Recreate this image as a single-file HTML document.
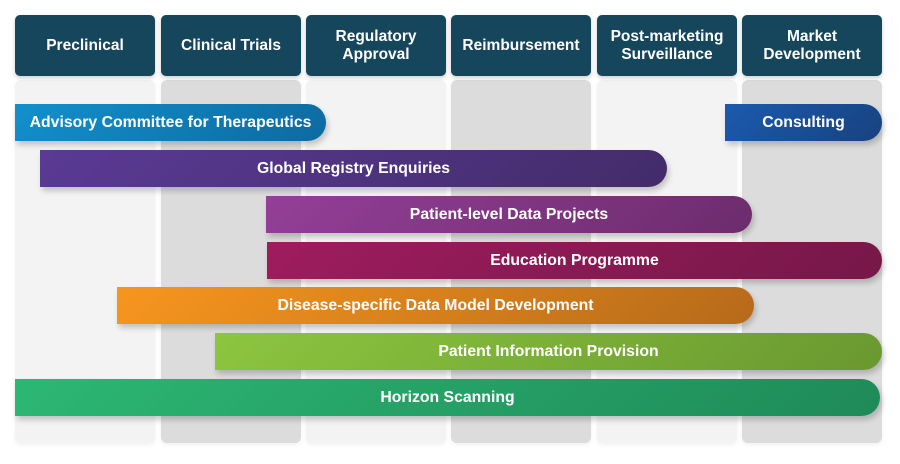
<!DOCTYPE html>
<html><head><meta charset="utf-8"><style>
*{margin:0;padding:0;box-sizing:border-box}
body{width:900px;height:464px;background:#fff;position:relative;overflow:hidden;font-family:"Liberation Sans",sans-serif;font-weight:bold;color:#fff}
.col{position:absolute;top:80px;height:363px;width:140px;border-radius:6px;box-shadow:0 2px 4px rgba(0,0,0,.06)}
.l{background:#f3f3f3}.d{background:#dcdcdc}
.h{position:absolute;top:15px;height:61px;width:140px;background:#15465b;border-radius:5px;display:flex;align-items:center;justify-content:center;text-align:center;font-size:15.5px;line-height:18px;box-shadow:0 2px 4px rgba(0,0,0,.2)}
.b{position:absolute;height:37px;border-radius:0 19px 19px 0;display:flex;align-items:center;justify-content:center;font-size:15.8px;padding-top:1px;box-shadow:2px 4px 6px rgba(0,0,0,.2);white-space:nowrap}
</style></head><body>
<div class="col l" style="left:15px"></div>
<div class="col d" style="left:161px"></div>
<div class="col l" style="left:306px"></div>
<div class="col d" style="left:451px"></div>
<div class="col l" style="left:597px"></div>
<div class="col d" style="left:742px"></div>
<div class="h" style="left:15px">Preclinical</div>
<div class="h" style="left:161px">Clinical Trials</div>
<div class="h" style="left:306px">Regulatory<br>Approval</div>
<div class="h" style="left:451px">Reimbursement</div>
<div class="h" style="left:597px">Post-marketing<br>Surveillance</div>
<div class="h" style="left:742px">Market<br>Development</div>
<div class="b" style="left:15px;width:311px;top:104px;background:linear-gradient(135deg,#1290cc,#0d6aa0)">Advisory Committee for Therapeutics</div>
<div class="b" style="left:725px;width:157px;top:104px;background:linear-gradient(135deg,#1c5aae,#17427f)">Consulting</div>
<div class="b" style="left:40px;width:627px;top:150px;background:linear-gradient(135deg,#5a3a94,#432c6a)">Global Registry Enquiries</div>
<div class="b" style="left:266px;width:486px;top:196px;background:linear-gradient(135deg,#943f98,#6c2c6c)">Patient-level Data Projects</div>
<div class="b" style="left:267px;width:615px;top:242px;background:linear-gradient(135deg,#9e1c5e,#761848)">Education Programme</div>
<div class="b" style="left:117px;width:637px;top:287px;background:linear-gradient(135deg,#f7961e,#b66a1a)">Disease-specific Data Model Development</div>
<div class="b" style="left:215px;width:667px;top:333px;background:linear-gradient(135deg,#8cc63f,#6a9830)">Patient Information Provision</div>
<div class="b" style="left:15px;width:865px;top:379px;background:linear-gradient(135deg,#2cb774,#1f8a58)">Horizon Scanning</div>
</body></html>
